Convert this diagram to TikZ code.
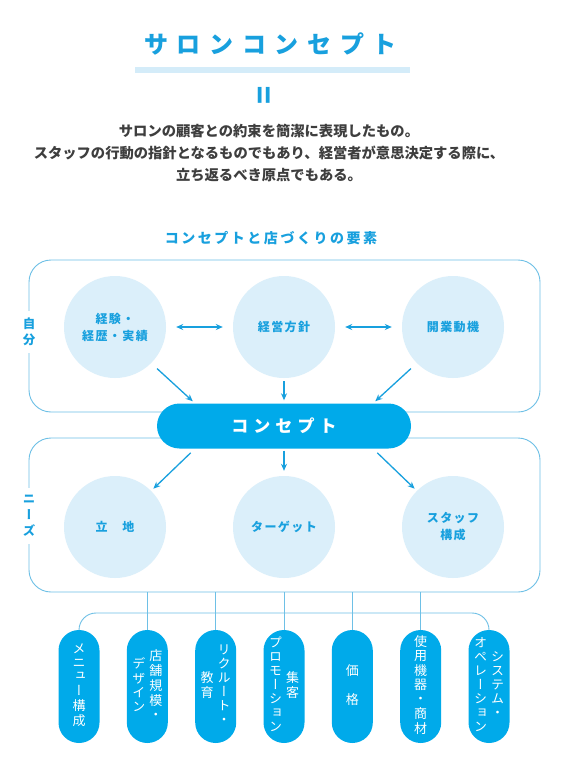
\documentclass[tikz,border=0pt]{standalone}
\usepackage{fontspec}
\setmainfont{Noto Sans CJK JP}
\newfontfamily\jpv[RawFeature=+vert]{Noto Sans CJK JP}
\usetikzlibrary{arrows.meta,calc}
\definecolor{myblue}{RGB}{24,160,222}
\definecolor{pillblue}{RGB}{0,170,234}
\definecolor{linecol}{RGB}{110,192,230}
\definecolor{circfill}{RGB}{219,239,250}
\definecolor{barfill}{RGB}{212,236,249}
\definecolor{textgray}{RGB}{62,62,62}
\newcommand{\vstack}[1]{\begin{tabular}{@{}c@{}}#1\end{tabular}}
\tikzset{
  box/.style={draw=linecol, line width=0.9pt, rounded corners=22pt, inner sep=0pt},
  lbl/.style={fill=white, text=myblue, align=center, inner xsep=3pt, inner ysep=7pt,
    font=\jpv\bfseries\fontsize{12.5}{16}\selectfont},
  circ/.style={circle, fill=circfill, minimum size=102pt, inner sep=0pt, text=myblue, align=center,
    font=\bfseries\fontsize{12}{17}\selectfont\addfontfeature{LetterSpace=12}},
  concept/.style={fill=pillblue, rounded corners=22.5pt, minimum width=254pt, minimum height=45pt,
    inner sep=0pt, text=white, font=\bfseries\fontsize{17}{17}\selectfont\addfontfeature{LetterSpace=30}},
  pill/.style={fill=pillblue, rounded corners=20.5pt, minimum width=41pt, minimum height=113pt,
    inner sep=0pt, text=white, font=\jpv\fontsize{13}{13.8}\selectfont},
  arr/.style={draw=myblue, line width=1.3pt, -{Stealth[length=7pt,width=6pt]}},
  darr/.style={draw=myblue, line width=1.3pt, {Stealth[length=7pt,width=6pt]}-{Stealth[length=7pt,width=6pt]}},
  conn/.style={draw=linecol, line width=0.9pt},
}
\begin{document}
\begin{tikzpicture}[x=1pt,y=-1pt]
\useasboundingbox[fill=white] (0,0) rectangle (570,768);

% title
\node[text=myblue, font=\bfseries\fontsize{24}{24}\selectfont\addfontfeature{LetterSpace=36}] (title) at (270.5,44) {サロンコンセプト};
\node[fill=barfill, minimum width=275pt, minimum height=6pt, inner sep=0pt] (bar) at (272.5,69.7) {};
\node[text=myblue, rotate=90, font=\bfseries\fontsize{30}{30}\selectfont] (eq) at (266.5,95.5) {=};
\node[text=textgray, align=center, font=\bfseries\fontsize{14.3}{22}\selectfont] (body) at (269,153.5)
  {サロンの顧客との約束を簡潔に表現したもの。\\スタッフの行動の指針となるものでもあり、経営者が意思決定する際に、\\立ち返るべき原点でもある。};
\node[text=myblue, font=\bfseries\fontsize{14}{14}\selectfont\addfontfeature{LetterSpace=18}] (sub) at (271,238) {コンセプトと店づくりの要素};

% boxes
\node[box, minimum width=511pt, minimum height=152pt] (upbox) at (284.5,336) {};
\node[box, minimum width=511pt, minimum height=154pt] (lowbox) at (284.5,515) {};
\node[lbl] (jibun) at (29,332) {自\\分};
\node[lbl] (needs) at (29,516) {ニ\\ー\\ズ};

% circles
\node[circ] (c1) at (115,327) {経験・\\経歴・実績};
\node[circ] (c2) at (284,327) {経営方針};
\node[circ] (c3) at (453,327) {開業動機};
\node[circ] (d1) at (115,527) {立　地};
\node[circ] (d2) at (284,527) {ターゲット};
\node[circ] (d3) at (453,527) {スタッフ\\構成};

% concept
\node[concept] (cp) at (284,426) {コンセプト};

% arrows
\draw[darr, shorten <=10pt, shorten >=10pt] (c1.east) -- (c2.west);
\draw[darr, shorten <=10pt, shorten >=10pt] (c2.east) -- (c3.west);
\draw[arr, shorten <=8pt, shorten >=3pt] (c1.-45) -- ($(cp.north west)!0.15!(cp.north east)$);
\draw[arr, shorten <=3pt, shorten >=3pt] (c2.south) -- (cp.north);
\draw[arr, shorten <=8pt, shorten >=3pt] (c3.-135) -- ($(cp.north west)!0.85!(cp.north east)$);
\draw[arr, shorten <=6pt, shorten >=3pt] ($(cp.south west)!0.15!(cp.south east)$) -- (d1.45);
\draw[arr, shorten <=2pt, shorten >=5pt] (cp.south) -- (d2.north);
\draw[arr, shorten <=6pt, shorten >=3pt] ($(cp.south west)!0.85!(cp.south east)$) -- (d3.135);

% pills
\node[pill] (p1) at (79,686.5) {\vstack{メ\\ニ\\ュ\\ー\\構\\成}};
\node[pill] (p2) at (147.3,686.5) {\vstack{デ\\ザ\\イ\\ン}\hspace{4pt}\vstack{店\\舗\\規\\模\\・}};
\node[pill] (p3) at (215.7,686.5) {\vstack{教\\育}\hspace{4pt}\vstack{リ\\ク\\ル\\ー\\ト\\・}};
\node[pill] (p4) at (284,686.5) {\vstack{プ\\ロ\\モ\\ー\\シ\\ョ\\ン}\hspace{4pt}\vstack{集\\客}};
\node[pill] (p5) at (352.3,686.5) {\vstack{価\\[13.8pt]格}};
\node[pill] (p6) at (420.7,686.5) {\vstack{使\\用\\機\\器\\・\\商\\材}};
\node[pill] (p7) at (489,686.5) {\vstack{オ\\ペ\\レ\\ー\\シ\\ョ\\ン}\hspace{4pt}\vstack{シ\\ス\\テ\\ム\\・}};

% connectors to pills
\coordinate (hl) at (284,613);
\draw[conn, rounded corners=17pt] (p1.north) -- (p1.north |- hl) -- (p7.north |- hl) -- (p7.north);
\foreach \p in {p2,p3,p4,p5,p6}{
  \draw[conn] (\p.north |- lowbox.south) -- (\p.north);
}
\end{tikzpicture}
\end{document}
